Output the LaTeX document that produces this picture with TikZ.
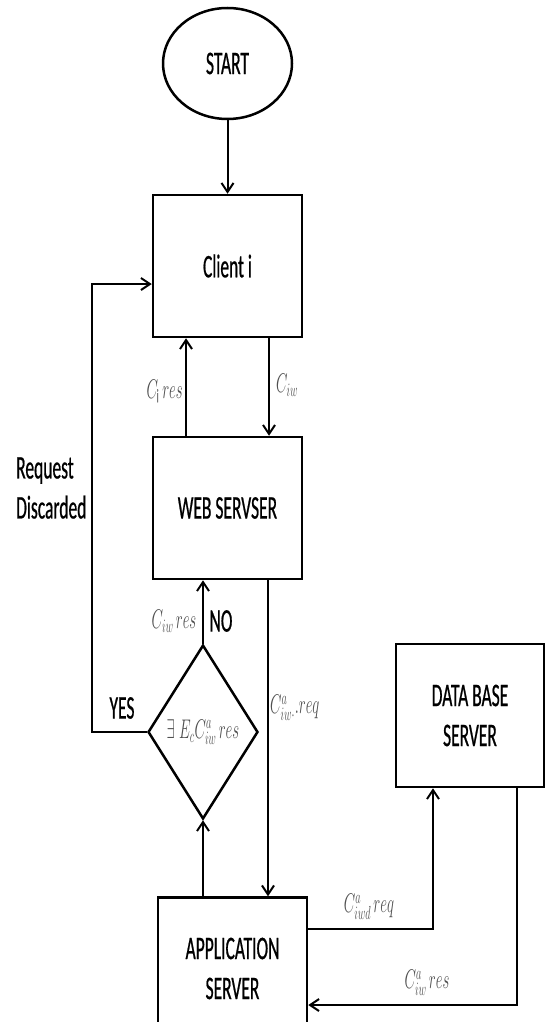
\RequirePackage{fix-cm}
\documentclass[tikz,border=0pt]{standalone}
\usepackage{fontspec}
\setmainfont[FakeStretch=0.53,FakeBold=0.6]{Carlito}
\usepackage{graphicx}
\usetikzlibrary{shapes.geometric,arrows.meta}
\definecolor{mgray}{HTML}{505050}
\newcommand{\bigf}{\fontsize{33}{40}\selectfont}
\newcommand{\ml}[1]{\scalebox{0.55}[1]{\fontsize{27}{32}\selectfont$#1$}}
\tikzset{
  box/.style={draw, line width=2.5pt, minimum width=149pt, minimum height=142pt, inner sep=0pt, font=\bigf, align=center},
  conn/.style={line width=2pt, -{Straight Barb[length=9pt,width=12pt]}},
  lbl/.style={font=\bigf, inner sep=0pt},
  mlbl/.style={text=mgray, inner sep=0pt}
}
\begin{document}
\begin{tikzpicture}[x=1pt,y=-1pt]
\useasboundingbox[fill=white] (0,0) rectangle (546,1022);
\node[draw, ellipse, line width=2.5pt, minimum width=129pt, minimum height=111pt, inner sep=0pt, font=\bigf] (start) at (227.5,63.5) {START};
\node[box] (client) at (227.5,266) {Client i};
\node[box] (web) at (227.5,508) {WEB SERVSER};
\node[diamond, draw, line width=2.5pt, minimum width=110pt, minimum height=174pt, inner sep=0pt] (dec) at (203,732) {\textcolor{mgray}{\ml{\exists\ \,E_c C^a_{iw}\,res}}};
\node[box] (app) at (232.5,968.5) {APPLICATION\\SERVER};
\node[box, minimum width=148pt, minimum height=143pt] (db) at (470,715.5) {DATA BASE\\SERVER};

\coordinate (cl) at (92,284);

\draw[conn] (start.south) -- (client.north);
\draw[conn] ([xshift=-41.5pt]web.north) -- ([xshift=-41.5pt]client.south);
\draw[conn] ([xshift=41.5pt]client.south) -- ([xshift=41.5pt]web.north);
\draw[conn] (dec.north) -- (dec.north |- web.south);
\draw[conn] (dec.west) -| (cl) -- ([yshift=-18pt]client.west);
\draw[conn] ([xshift=40.5pt]web.south) -- ([xshift=35.5pt]app.north);
\draw[conn] (app.north -| dec.south) -- (dec.south);
\draw[conn] ([yshift=39.5pt]app.east) -| ([xshift=-37pt]db.south);
\draw[conn] ([xshift=47pt]db.south) |- ([yshift=-36.5pt]app.east);

\node[mlbl, anchor=east] (l1) at (183,391) {\ml{C_{\mathrm{i}}\,res}};
\node[mlbl, anchor=west] (l2) at (276,385) {\ml{C_{iw}}};
\node[lbl, anchor=west, align=left] (l3) at (16,488) {Request\\Discarded};
\node[mlbl] (l4) at (174,621) {\ml{C_{iw}\,res}};
\node[lbl] (l5) at (221,621) {NO};
\node[lbl] (l6) at (122,708) {YES};
\node[mlbl, anchor=west] (l7) at (270,708) {\ml{C^a_{iw\cdot}.req}};
\node[mlbl] (l8) at (369,907) {\ml{C^a_{iwd}\,req}};
\node[mlbl] (l9) at (427,983) {\ml{C^a_{iw}\,res}};
\end{tikzpicture}
\end{document}
